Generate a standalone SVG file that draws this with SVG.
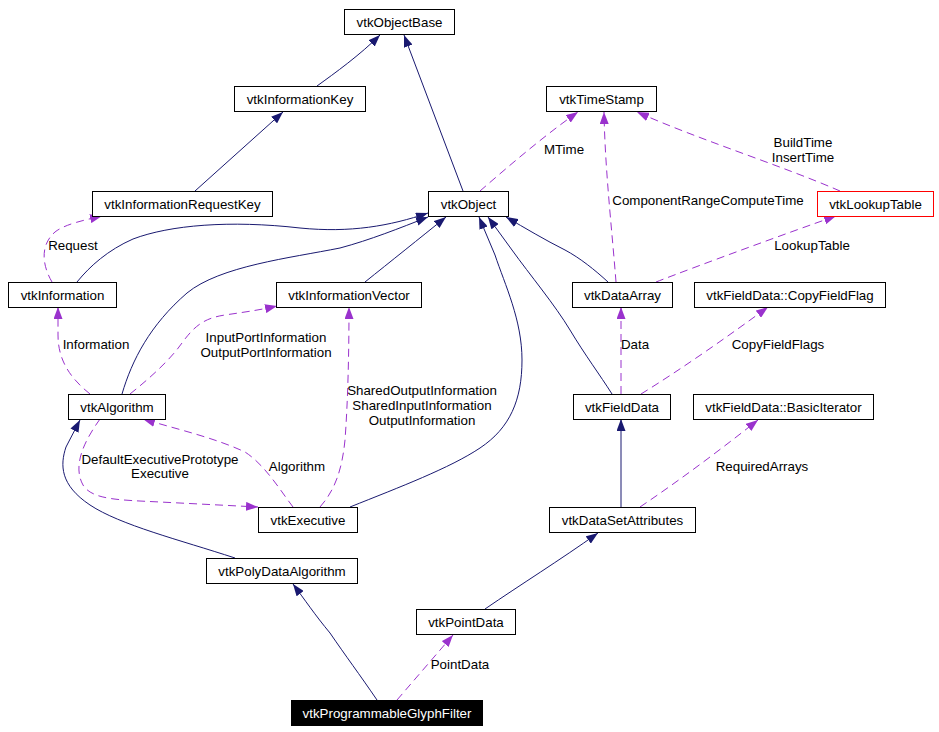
<svg xmlns="http://www.w3.org/2000/svg" width="939" height="732" viewBox="0 0 939 732">
<style>
text{font-family:"Liberation Sans",Arial,Helvetica,sans-serif;font-size:13.33px;fill:#000}
.n rect{fill:#fff;stroke:#000;stroke-width:1}
.n text{text-anchor:middle}
.lbl{text-anchor:middle}
.inh{fill:none;stroke:#191970;stroke-width:1;marker-end:url(#an)}
.use{fill:none;stroke:#9a32cd;stroke-width:1;stroke-dasharray:8,5;marker-end:url(#ap)}
</style>
<defs>
<marker id="an" markerUnits="userSpaceOnUse" markerWidth="12" markerHeight="9" refX="12" refY="4.5" orient="auto"><path d="M0,0 L12,4.5 L0,9 z" fill="#191970"/></marker>
<marker id="ap" markerUnits="userSpaceOnUse" markerWidth="12" markerHeight="9" refX="12" refY="4.5" orient="auto"><path d="M0,0 L12,4.5 L0,9 z" fill="#9a32cd"/></marker>
</defs>
<rect width="939" height="732" fill="#fff"/>
<g id="edges">
<path class="inh" d="M317,86 C335,73 360,55 380,35"/>
<path class="inh" d="M195,191 L283,112"/>
<path class="inh" d="M463,191 L404,35"/>
<path class="use" d="M52,282 C42,265 40,245 55,232 C65,224 85,220 102,216"/>
<path class="inh" d="M77,282 C90,266 108,250 133,239 C170,225 230,220 300,228 C350,233 390,226 428,213"/>
<path class="inh" d="M122,394 C132,360 150,325 187,293 C220,266 290,258 340,248 C370,240 400,228 428,217"/>
<path class="inh" d="M365,282 C390,262 420,238 446,217"/>
<path class="inh" d="M350,507 C400,487 450,468 480,448 C510,428 522,400 522,360 C522,320 505,285 495,255 L479,217"/>
<path class="inh" d="M612,394 C600,375 585,355 570,330 C555,305 530,275 512,250 L488,217"/>
<path class="inh" d="M608,282 C595,270 580,258 565,250 C545,240 525,228 506,217"/>
<path class="use" d="M480,191 C510,165 545,135 578,112"/>
<path class="use" d="M616,282 C612,230 605,170 604,112"/>
<path class="use" d="M840,191 C780,165 700,140 637,112"/>
<path class="use" d="M656,282 C700,265 790,232 836,216"/>
<path class="use" d="M90,394 C70,378 58,360 58,335 L58,307"/>
<path class="use" d="M130,394 C150,378 170,360 182,343 C195,325 205,318 225,315 C245,312 260,310 277,306"/>
<path class="use" d="M320,507 C335,490 342,470 345,440 C348,400 349,350 349,307"/>
<path class="use" d="M293,507 C280,490 265,465 245,452 C215,438 180,430 143,419"/>
<path class="use" d="M100,419 C85,440 72,465 83,485 C92,500 120,500 160,502 L258,507"/>
<path class="inh" d="M235,558 C180,540 120,525 90,505 C60,485 60,465 66,447 L80,420"/>
<path class="inh" d="M377,700 C360,675 345,655 330,633 C315,615 305,600 293,584"/>
<path class="use" d="M397,700 L453,635"/>
<path class="inh" d="M485,609 C520,585 560,560 598,533"/>
<path class="inh" d="M621,507 L621,419"/>
<path class="use" d="M621,394 L621,307"/>
<path class="use" d="M641,394 C680,370 730,335 768,307"/>
<path class="use" d="M640,507 C680,480 720,450 758,420"/>
<text class="lbl" x="73" y="250">Request</text>
<text class="lbl" x="564" y="154">MTime</text>
<text class="lbl" x="708" y="205">ComponentRangeComputeTime</text>
<text class="lbl" x="803" y="147">BuildTime</text>
<text class="lbl" x="803" y="162">InsertTime</text>
<text class="lbl" x="812" y="250">LookupTable</text>
<text class="lbl" x="96" y="349">Information</text>
<text class="lbl" x="266" y="342">InputPortInformation</text>
<text class="lbl" x="266" y="357">OutputPortInformation</text>
<text class="lbl" x="422" y="395">SharedOutputInformation</text>
<text class="lbl" x="422" y="410">SharedInputInformation</text>
<text class="lbl" x="422" y="425">OutputInformation</text>
<text class="lbl" x="297" y="471">Algorithm</text>
<text class="lbl" x="160" y="464">DefaultExecutivePrototype</text>
<text class="lbl" x="160" y="478">Executive</text>
<text class="lbl" x="635" y="349">Data</text>
<text class="lbl" x="778" y="349">CopyFieldFlags</text>
<text class="lbl" x="762" y="471">RequiredArrays</text>
<text class="lbl" x="460" y="669">PointData</text>
</g>
<g id="vtkObjectBase" class="n"><rect x="344.5" y="9.5" width="110" height="25"/><text x="399.5" y="26.5">vtkObjectBase</text></g>
<g id="vtkInformationKey" class="n"><rect x="234.5" y="86.5" width="131" height="25"/><text x="300" y="103.5">vtkInformationKey</text></g>
<g id="vtkTimeStamp" class="n"><rect x="546.5" y="86.5" width="110" height="25"/><text x="601.5" y="103.5">vtkTimeStamp</text></g>
<g id="vtkInformationRequestKey" class="n"><rect x="92.5" y="191.5" width="180" height="25"/><text x="182.5" y="208.5">vtkInformationRequestKey</text></g>
<g id="vtkObject" class="n"><rect x="428.5" y="191.5" width="80" height="25"/><text x="468.5" y="208.5">vtkObject</text></g>
<g id="vtkLookupTable" class="n"><rect x="817.5" y="191.5" width="116" height="25" style="stroke:#f00"/><text x="875.5" y="208.5">vtkLookupTable</text></g>
<g id="vtkInformation" class="n"><rect x="8.5" y="282.5" width="108" height="25"/><text x="62.5" y="299.5">vtkInformation</text></g>
<g id="vtkInformationVector" class="n"><rect x="276.5" y="282.5" width="145" height="25"/><text x="349" y="299.5">vtkInformationVector</text></g>
<g id="vtkDataArray" class="n"><rect x="572.5" y="282.5" width="100" height="25"/><text x="622.5" y="299.5">vtkDataArray</text></g>
<g id="vtkFieldData_CopyFieldFlag" class="n"><rect x="694.5" y="282.5" width="191" height="25"/><text x="790" y="299.5">vtkFieldData::CopyFieldFlag</text></g>
<g id="vtkAlgorithm" class="n"><rect x="68.5" y="394.5" width="97" height="25"/><text x="117" y="411.5">vtkAlgorithm</text></g>
<g id="vtkFieldData" class="n"><rect x="573.5" y="394.5" width="97" height="25"/><text x="622" y="411.5">vtkFieldData</text></g>
<g id="vtkFieldData_BasicIterator" class="n"><rect x="693.5" y="394.5" width="180" height="25"/><text x="783.5" y="411.5">vtkFieldData::BasicIterator</text></g>
<g id="vtkExecutive" class="n"><rect x="258.5" y="507.5" width="99" height="25"/><text x="308" y="524.5">vtkExecutive</text></g>
<g id="vtkDataSetAttributes" class="n"><rect x="549.5" y="507.5" width="146" height="25"/><text x="622.5" y="524.5">vtkDataSetAttributes</text></g>
<g id="vtkPolyDataAlgorithm" class="n"><rect x="206.5" y="558.5" width="151" height="25"/><text x="282" y="575.5">vtkPolyDataAlgorithm</text></g>
<g id="vtkPointData" class="n"><rect x="416.5" y="609.5" width="99" height="25"/><text x="466" y="626.5">vtkPointData</text></g>
<g id="vtkProgrammableGlyphFilter" class="n"><rect x="291.5" y="700.5" width="191" height="25" style="fill:#000"/><text x="387" y="717.5" style="fill:#fff">vtkProgrammableGlyphFilter</text></g>
</svg>
